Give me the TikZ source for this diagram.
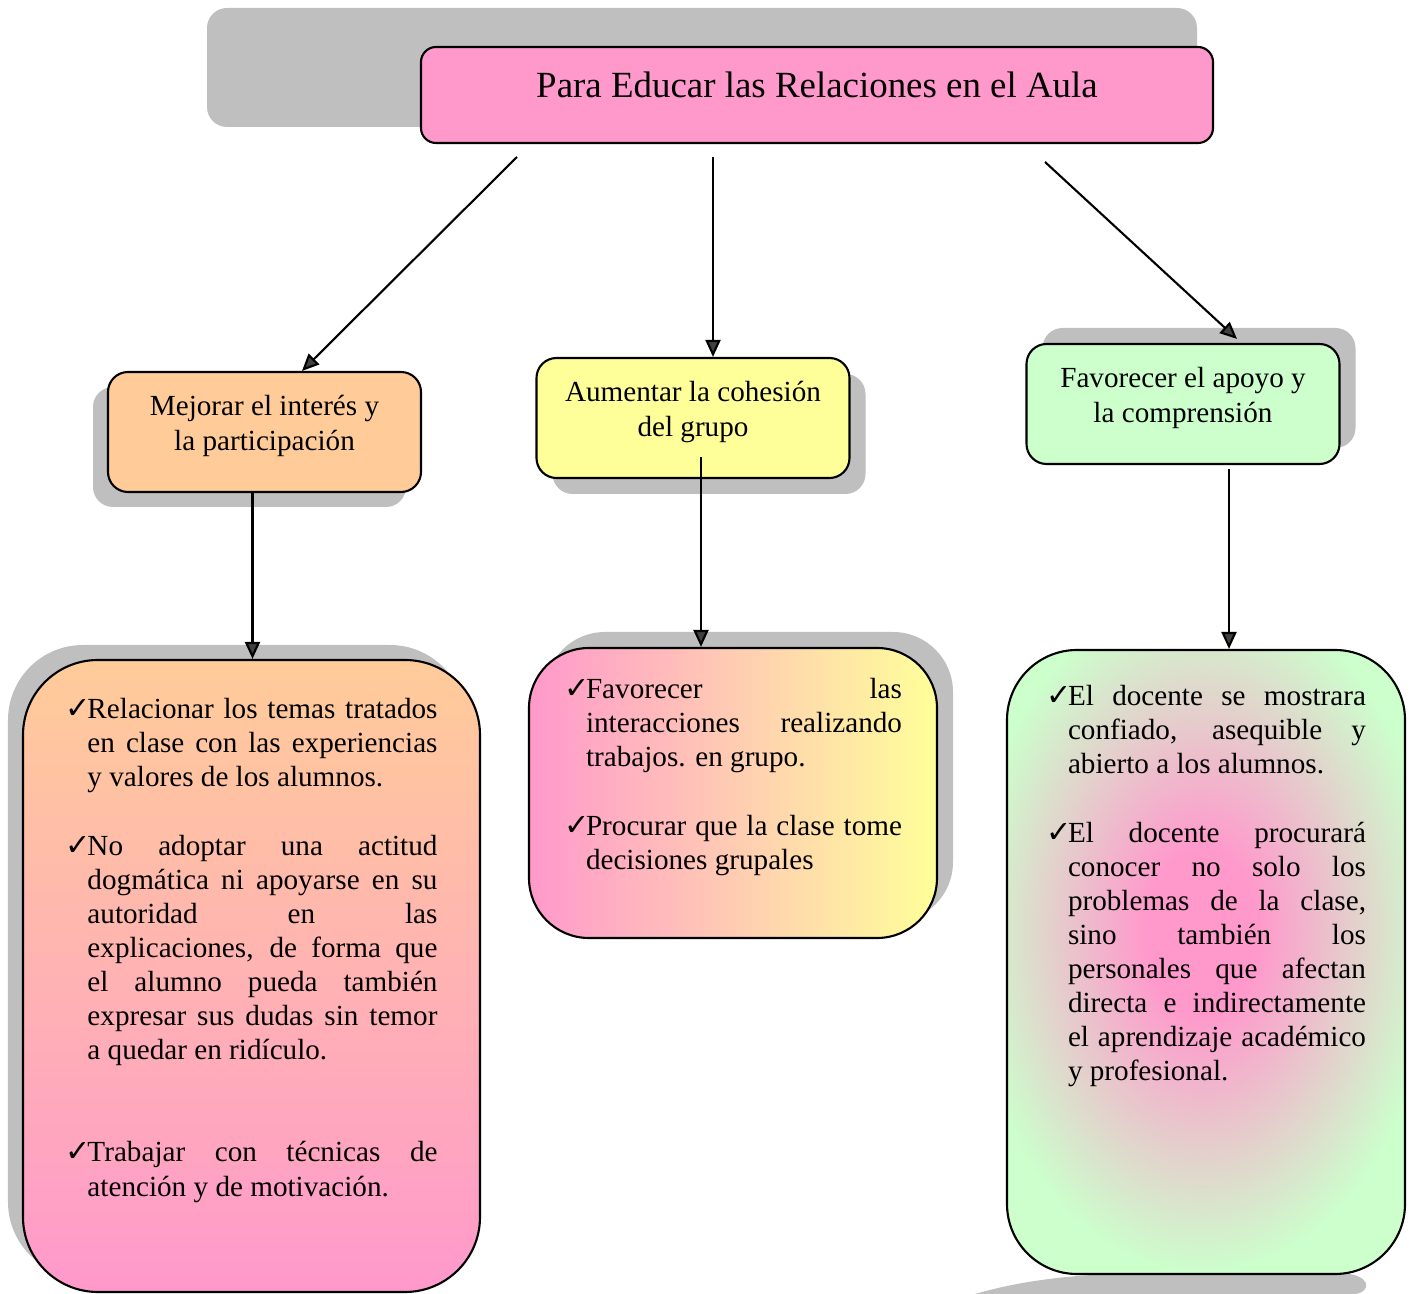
\documentclass[tikz,border=0pt]{standalone}
\usepackage{xcolor}
\usepackage{fontspec}
\setmainfont{Liberation Serif}
\newfontfamily\simbolos{DejaVu Sans}
\usepackage{tikz}
\usetikzlibrary{calc,positioning,arrows.meta,shadows}

\definecolor{rosa}{HTML}{FF99CC}
\definecolor{naranja}{HTML}{FFCC99}
\definecolor{amarillo}{HTML}{FFFF99}
\definecolor{verde}{HTML}{CCFFCC}
\definecolor{gris}{HTML}{BFBFBF}
\pgfdeclareradialshading{mancha}{\pgfpoint{0bp}{0bp}}{color(0bp)=(rosa); color(6bp)=(rosa); color(25bp)=(verde); color(50bp)=(verde)}

\tolerance=10000 \hbadness=10000 \hyphenpenalty=10000
\newcommand{\chk}[1]{\par\noindent\hangindent=2.2mm\hangafter=1\makebox[2.2mm][l]{\simbolos\fontsize{8.6}{9}\selectfont ✓}#1\par}
\newcommand{\hueco}[1][1]{\vspace{#1\baselineskip}}

\begin{document}
\begin{tikzpicture}[
  caja/.style={draw, line width=0.6pt, rounded corners=2mm, minimum width=3.13cm, minimum height=1.2cm},
  lista/.style={draw, line width=0.6pt, rounded corners=7.5mm},
  rotulo/.style={inner sep=0pt, align=center, font=\fontsize{8.3}{9.9}\selectfont},
  texto/.style={inner sep=0pt, align=justify, font=\fontsize{8.3}{9.7}\selectfont},
  flecha/.style={line width=0.6pt, -{Triangle[length=1.7mm,width=1.5mm,fill=black!75]}},
  sombra/.style 2 args={drop shadow={shadow xshift=#1, shadow yshift=#2, fill=gris, opacity=1}}]
\useasboundingbox (0,0) rectangle (14.14,-12.94);
\fill[gris, rounded corners=2mm] (2.07,-0.08) rectangle (11.97,-1.27);
\fill[gris] (9.75,-12.94) .. controls (10.3,-12.78) and (10.9,-12.73) .. (11.6,-12.73) -- (13.40,-12.73)
  .. controls (13.72,-12.74) and (13.72,-12.92) .. (13.55,-12.94) -- cycle;

\node[caja, fill=rosa, minimum width=7.92cm, minimum height=0.96cm, rounded corners=1.5mm] (aula) at (8.17,-0.95) {};
\node[rotulo, font=\fontsize{10.5}{12}\selectfont, below=0.25cm of aula.north] {Para Educar las Relaciones en el Aula};

\node[caja, fill=naranja, sombra={-1.5mm}{-1.5mm}] (mejora) at (2.645,-4.32) {};
\node[rotulo, below=0.24cm of mejora.north] {Mejorar el interés y\\la participación};
\node[caja, fill=amarillo, sombra={1.6mm}{-1.6mm}] (cohesion) at (6.93,-4.18) {};
\node[rotulo, below=0.24cm of cohesion.north] {Aumentar la cohesión\\del grupo};
\node[caja, fill=verde, sombra={1.6mm}{1.6mm}] (apoyo) at (11.83,-4.04) {};
\node[rotulo, below=0.24cm of apoyo.north] {Favorecer el apoyo y\\la comprensión};

\node[lista, top color=naranja, bottom color=rosa, minimum width=4.57cm, minimum height=6.32cm, sombra={-1.5mm}{1.5mm}] (lmejora) at (2.515,-9.76) {};
\node[texto, text width=3.72cm, below=0.25cm of lmejora.north] {%
\chk{Relacionar los temas tratados\linebreak en clase con las experiencias\linebreak y valores de los alumnos.}
\hueco
\chk{No adoptar una actitud\linebreak dogmática ni apoyarse en su\linebreak autoridad en las\linebreak explicaciones, de forma que\linebreak el alumno pueda también\linebreak expresar sus dudas sin temor\linebreak a quedar en ridículo.}
\hueco[2]
\chk{Trabajar con técnicas de\linebreak atención y de motivación.}};

\node[lista, rounded corners=6mm, left color=rosa, middle color=naranja, right color=amarillo, minimum width=4.08cm, minimum height=2.9cm, sombra={1.6mm}{1.6mm}] (lcohesion) at (7.33,-7.93) {};
\node[texto, text width=3.38cm, below=0.17cm of lcohesion.north] {%
\chk{Favorecer las\linebreak interacciones realizando\linebreak trabajos. en grupo.}
\hueco
\chk{Procurar que la clase tome\linebreak decisiones grupales}};

\node[lista, rounded corners=7mm, fill=verde, minimum width=3.98cm, minimum height=6.24cm,
  path picture={\shade[shading=mancha] ([xshift=-0.4mm,yshift=3.2mm]path picture bounding box.center) ellipse (2.35cm and 3.4cm);}] (lapoyo) at (12.06,-9.62) {};
\node[texto, text width=3.2cm, below=0.22cm of lapoyo.north] {%
\chk{El docente se mostrara\linebreak confiado, asequible y\linebreak abierto a los alumnos.}
\hueco
\chk{El docente procurará\linebreak conocer no solo los\linebreak problemas de la clase,\linebreak sino también los\linebreak personales que afectan\linebreak directa e indirectamente\linebreak el aprendizaje académico\linebreak y profesional.}};

\coordinate (s1) at (5.17,-1.57);
\coordinate (s2) at (7.13,-1.57);
\coordinate (s3) at (10.45,-1.62);
\draw[flecha] (s1) -- ([xshift=3.75mm]mejora.north);
\draw[flecha] (s2) -- (s2 |- cohesion.north);
\draw[flecha] (s3) -- ([xshift=5.4mm,yshift=0.4mm]apoyo.north);
\draw[flecha] ([xshift=-1.2mm]mejora.south) -- ([xshift=-1.2mm]mejora.south |- lmejora.north);
\draw[flecha] ([xshift=0.8mm,yshift=2.2mm]cohesion.south) -- ([xshift=0.8mm]cohesion.south |- lcohesion.north);
\draw[flecha] ([xshift=4.6mm,yshift=-0.4mm]apoyo.south) -- ([xshift=4.6mm]apoyo.south |- lapoyo.north);
\end{tikzpicture}
\end{document}
